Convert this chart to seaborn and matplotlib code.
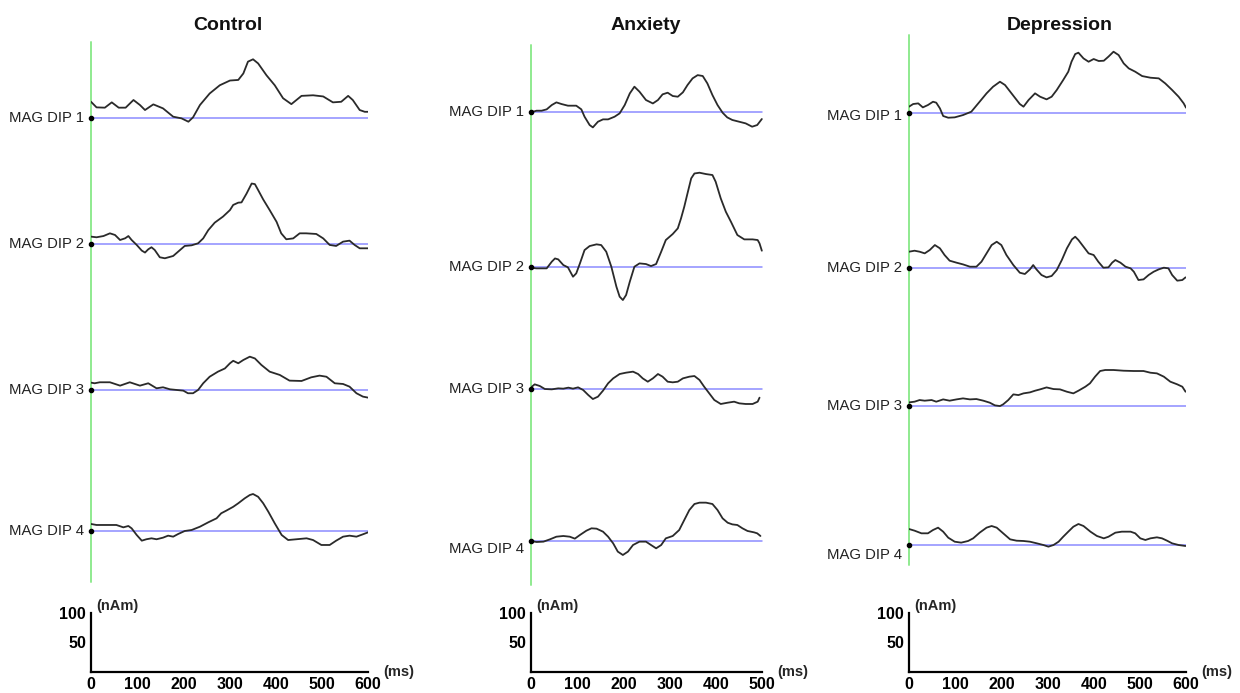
import numpy as np
import matplotlib
matplotlib.use("Agg")
import matplotlib.pyplot as plt
import seaborn as sns

sns.set_style("white")
plt.rcParams['font.family'] = ['Liberation Sans', 'DejaVu Sans']

# ---------------- data ----------------
groups = ["Control", "Anxiety", "Depression"]
dip_labels = ["MAG DIP 1", "MAG DIP 2", "MAG DIP 3", "MAG DIP 4"]
time_max = [600, 500, 600]            # ms
scale_y_ticks = [50, 100]             # nAm
y_unit = "(nAm)"
x_unit = "(ms)"

control_dip1_t = [0,12,30,45,60,75,92,106,117,135,156,178,196,211,221,236,257,279,301,319,330,340,351,362,380,398,416,434,456,481,503,524,542,557,567,582,593,600]
control_dip1_v = [27,17.5,17,26,17,17,30,21.5,13,22.6,15.8,1.7,-1.1,-6.8,0.6,21.5,41,55,63,64,75,95,99,92,72,55,33,23,37,38,36,26,27,37,30,13,10,10]

control_dip2_t = [0,12,27,41,52,63,74,81,88,99,110,117,124,131,138,149,160,178,193,203,218,232,243,254,268,286,301,308,319,326,337,348,355,362,373,387,402,412,423,438,452,466,488,503,517,531,546,560,571,582,600]
control_dip2_v = [13,11.9,14,18.6,15.8,7.3,10.2,14,7.3,-1.1,-10.7,-14,-8.5,-5,-9.6,-22,-23.7,-19.8,-9.6,-2.8,-1.7,1.7,10,24,36.7,47,58,66.7,70.6,71,86,103,102,92,76,58,38,18.6,8.5,10,18.6,18.6,17.5,10,-1.1,-2.8,4.5,6.2,-1.1,-6.8,-6.8]

control_dip3_t = [0,8,19,41,63,84,106,124,142,156,171,185,200,210,221,232,243,257,275,290,301,308,319,330,344,355,369,387,409,430,456,477,495,510,528,546,560,575,589,600]
control_dip3_v = [13,11.9,13.6,13.6,7.9,13.6,7.9,11.9,3.4,5.1,1.7,0.6,-0.6,-5,-5,0.6,11.9,23,31.6,37,45.8,50,45.8,51.4,57,54,43,31.6,26,16.4,15.8,22,24.9,23,11.9,10.7,6.2,-5,-10.7,-12.4]

control_dip4_t = [0,12,34,55,70,81,88,99,110,120,131,142,156,167,178,189,203,218,236,254,272,282,293,308,319,333,344,351,362,373,384,398,413,427,445,467,481,499,517,531,546,560,575,589,600]
control_dip4_v = [11.9,10.2,10.2,10.2,6.2,8.5,4.5,-6.8,-16.4,-14,-12.4,-14,-11.3,-7.9,-9.6,-5,0,1.7,7.3,14.7,21.5,30,34.5,41,47,55.4,61,62.7,58,47,32.8,13,-6.8,-15.3,-14,-12.4,-15.3,-23.7,-23.7,-16.4,-9.6,-7.9,-9.6,-5.6,-2.3]

anxiety_dip1_t = [0,12,23,34,45,55,66,80,98,109,116,127,134,145,156,167,181,192,203,214,224,235,249,264,275,285,296,307,318,329,339,350,361,372,382,393,404,415,425,436,451,465,479,490,500]
anxiety_dip1_v = [-1.1,1.7,1.7,4,11.3,15.8,13,10.2,10.2,4,-8.5,-22.6,-26.6,-17,-13,-13,-8.5,-2.8,11.3,31,42.4,33.9,19.8,14,19.8,29.4,32.2,26.6,25.4,32.8,45.2,56.5,62,60.5,48,28.2,11.3,-1.7,-9.6,-14,-17,-19.8,-25.4,-22.6,-12.4]

anxiety_dip2_t = [0,12,34,45,52,59,70,80,91,98,106,116,127,142,152,163,174,185,192,199,206,214,224,235,249,260,271,282,292,307,318,325,332,339,347,354,365,379,393,400,411,422,433,447,462,480,491,495,500]
anxiety_dip2_v = [-1.7,-2.8,-2.8,8.5,14,12.4,2.8,-1.1,-17,-11.3,5.6,28.2,35,37.9,36.7,25.4,0,-33.9,-50.8,-56.5,-48,-25.4,0,5.6,4.5,1.1,4.5,25.4,45.2,55.4,65,82,101.7,124.3,149.7,158,159.3,157,155.4,144,115.8,93.2,76.3,53.7,46.3,46.3,45.2,39.5,27.1]

anxiety_dip3_t = [0,8,19,30,45,59,70,81,91,102,113,124,134,145,156,167,178,192,206,221,232,242,253,264,275,285,296,307,318,329,343,354,365,375,386,397,411,426,440,451,465,480,491,495]
anxiety_dip3_v = [2.8,7.9,5.1,0,-0.6,1.1,0.6,2.3,0.6,2.8,-1.7,-10.2,-17,-13,-2.8,9.6,18,25.4,27.7,29.4,25.4,18,12.4,18,25.4,20.9,12.4,11.3,12.4,18,20.9,22,15.3,4,-7.3,-18.6,-25.4,-23.2,-21.5,-24.3,-25.4,-25.4,-21.5,-14.7]

anxiety_dip4_t = [0,12,27,41,55,70,84,95,106,120,131,142,156,167,178,188,199,210,221,235,249,260,271,282,292,307,321,332,343,354,365,379,393,404,415,426,436,447,458,469,483,490,497]
anxiety_dip4_v = [0,-1.7,-1.1,2.8,7.3,8.5,7.3,4,10.2,17.5,21.5,20.9,15.8,7.3,-4,-18,-23.7,-18,-6.8,-1.1,-1.1,-6.8,-12.4,-6.8,4.5,8.5,18.6,35.6,52.5,62.7,65,65,62.7,52.5,38.4,31,28.2,27.1,21.5,17,14.7,13,8.5]

depression_dip1_t = [0,9,20,30,41,52,59,67,74,85,99,117,135,153,168,182,197,208,222,240,248,259,273,284,298,309,320,334,345,352,360,367,378,389,400,411,422,432,443,454,465,476,490,505,523,541,555,570,584,595,600]
depression_dip1_v = [10.2,14.7,15.8,9,13,18.6,17,7.3,-5.6,-8.5,-7.9,-4,1.7,18.6,32.8,44,52.5,46.9,32.8,14.7,10.2,21.5,32.8,27.1,22.6,27.1,38.4,55.4,69.5,86.4,99.4,101.7,92,86.4,91,87.6,88.1,95,103.4,97.7,83.6,75.1,69.5,62.1,59.3,58.2,49.7,38.4,27.1,15.8,8.5]

depression_dip2_t = [0,12,23,34,45,56,67,77,88,103,117,132,146,157,168,179,190,200,211,226,240,251,262,269,276,287,298,309,320,331,342,353,360,367,378,389,400,410,421,432,440,447,458,469,480,487,497,508,519,530,541,552,562,570,581,592,599]
depression_dip2_v = [27.1,28.8,27.1,24.3,30,38.4,32.8,21.5,11.9,8.5,5.6,1.7,1.7,10.2,24.3,38.4,44,38.4,21.5,4.5,-8.5,-10.7,-2.8,4.5,-2.8,-12.4,-16.4,-14,-4,13,32.8,48,52.5,46.9,35.6,24.3,21.5,10.2,0,0.6,8.5,13,8.5,1.7,-1.1,-6.8,-20.9,-19.8,-12.4,-6.8,-2.8,0,-1.1,-12.4,-22,-20.9,-16.4]

depression_dip3_t = [0,12,23,34,49,59,74,88,103,117,132,146,161,175,186,197,204,215,226,237,248,262,273,284,298,313,327,342,356,367,382,392,403,414,425,443,465,487,508,523,537,552,566,581,592,599]
depression_dip3_v = [5.6,6.8,9.6,8.5,9.6,6.8,10.7,8.5,10.7,12.4,10.7,11.3,8.5,5.1,0.6,-0.6,2.3,9.6,19.2,18,20.9,22.6,25.4,27.7,31,28.2,27.7,23.7,20.9,25.4,32.2,37.9,49.2,58.8,60.5,60.5,59.3,58.8,58.8,55.9,54.8,49.2,40.7,36.2,32.2,23.7]

depression_dip4_t = [0,12,27,41,52,63,74,85,99,113,128,139,153,168,179,190,204,219,233,248,262,277,291,302,313,324,334,345,356,367,378,393,407,422,432,447,461,480,490,501,512,523,537,548,559,570,584,599]
depression_dip4_v = [27.1,24.3,19.8,19.8,25.4,29.4,22.6,12.4,5.6,4,6.8,11.3,20.9,29.4,32.2,29.4,19.8,9.6,7.3,6.8,5.6,2.8,0,-2.8,0,5.6,14,22.6,31,35.6,32.2,22.6,15.3,11.3,14,20.9,22.6,22.6,19.8,11.3,8.5,11.3,13,11.3,7.3,2.8,0,-1.7]

traces = [
    [(control_dip1_t, control_dip1_v), (control_dip2_t, control_dip2_v),
     (control_dip3_t, control_dip3_v), (control_dip4_t, control_dip4_v)],
    [(anxiety_dip1_t, anxiety_dip1_v), (anxiety_dip2_t, anxiety_dip2_v),
     (anxiety_dip3_t, anxiety_dip3_v), (anxiety_dip4_t, anxiety_dip4_v)],
    [(depression_dip1_t, depression_dip1_v), (depression_dip2_t, depression_dip2_v),
     (depression_dip3_t, depression_dip3_v), (depression_dip4_t, depression_dip4_v)],
]

# ---------------- layout (pixels) ----------------
W, H = 1240, 693
fig = plt.figure(figsize=(W / 100, H / 100), dpi=100)
fig.patch.set_facecolor("white")

px_per_ms = 277 / 600
px_per_nAm = 0.59
panel_x0 = [91, 531, 909]
panel_top = [42, 45, 35]
panel_bottom = [582, 585, 565]
baseline_px = [[117.7, 244.3, 390.3, 531], [111.7, 266.7, 389, 541], [112.7, 267.7, 405.7, 545]]
label_dy_px = [[0, 0, 0, 0], [0, 0, 0, 8], [3, 0, 0, 10]]
title_xc = [228, 646, 1060]
title_y = 25
scale_y0 = 672

trace_color = "#2a2a2a"
green = "#8fea8f"
blue = "#8c8cff"

for p, grp in enumerate(groups):
    x0, top, bot = panel_x0[p], panel_top[p], panel_bottom[p]
    T = time_max[p]
    ax = fig.add_axes([x0 / W, 1 - bot / H, 600 * px_per_ms / W, (bot - top) / H])
    ax.set_xlim(0, 600)
    ax.set_ylim(0, (bot - top) / px_per_nAm)
    ax.axis("off")
    ax.axvline(0, color=green, lw=1.4, zorder=1, clip_on=False)
    for d, (t, v) in enumerate(traces[p]):
        off = (bot - baseline_px[p][d]) / px_per_nAm
        ax.plot([0, T], [off, off], color=blue, lw=1.1, zorder=2)
        sns.lineplot(x=np.array(t), y=np.array(v) + off, ax=ax, color=trace_color,
                     lw=1.3, estimator=None, sort=False, zorder=3)
        ax.plot([0], [off], "o", color="black", ms=3, zorder=5, clip_on=False)
        ax.text(-15, off - label_dy_px[p][d] / px_per_nAm, dip_labels[d],
                ha="right", va="center", fontsize=10.7, color="#222222")
    fig.text(title_xc[p] / W, 1 - title_y / H, grp, ha="center", va="center",
             fontsize=14, fontweight="bold", color="#111111")

    # scale bar axes
    sax = fig.add_axes([x0 / W, 1 - scale_y0 / H, T * px_per_ms / W, 100 * px_per_nAm / H])
    sax.set_xlim(0, T)
    sax.set_ylim(0, 100)
    sax.set_facecolor("none")
    for s in ["top", "right"]:
        sax.spines[s].set_visible(False)
    for s in ["left", "bottom"]:
        sax.spines[s].set_linewidth(1.6)
        sax.spines[s].set_color("black")
    sax.set_xticks(list(range(0, T + 1, 100)))
    sax.set_yticks(scale_y_ticks)
    sax.set_xticklabels([str(x) for x in range(0, T + 1, 100)], fontweight="bold", fontsize=11.5)
    sax.set_yticklabels([str(y) for y in scale_y_ticks], fontweight="bold", fontsize=11.5)
    sax.tick_params(axis="both", direction="inout", length=5, width=1.3, pad=1, colors="black")
    sax.annotate(y_unit, xy=(0, 100), xycoords="data", xytext=(4, 0), textcoords="offset points",
                 ha="left", va="bottom", fontsize=10.5, fontweight="bold")
    sax.annotate(x_unit, xy=(T, 0), xycoords="data", xytext=(11, 0), textcoords="offset points",
                 ha="left", va="center", fontsize=10.5, fontweight="bold")

fig.savefig("out.png", dpi=100, facecolor="white")
